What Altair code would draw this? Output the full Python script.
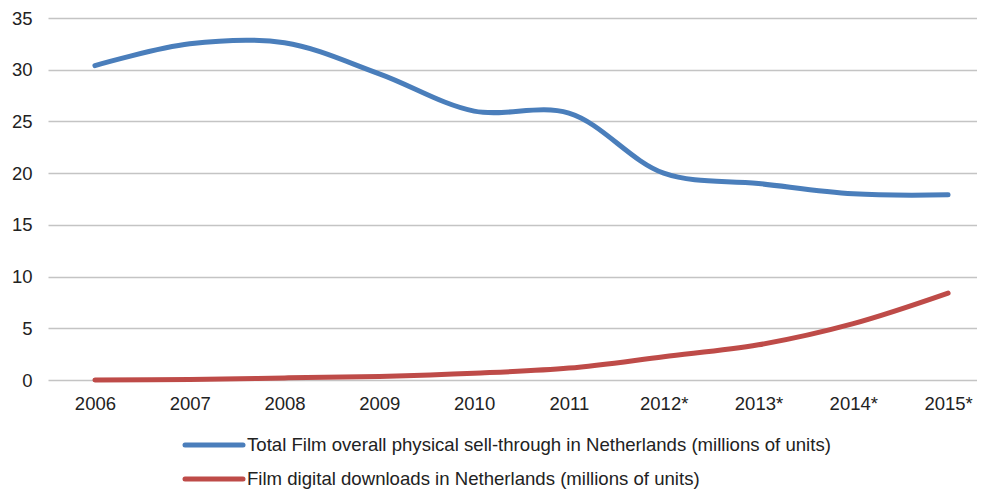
import altair as alt
import pandas as pd

years = ["2006", "2007", "2008", "2009", "2010", "2011", "2012*", "2013*", "2014*", "2015*"]
physical = [30.4, 32.5, 32.6, 29.6, 26.0, 25.8, 20.0, 19.0, 18.0, 17.9]
digital = [0.0, 0.05, 0.2, 0.35, 0.65, 1.15, 2.25, 3.4, 5.45, 8.4]

s1 = "Total Film overall physical sell-through in Netherlands (millions of units)"
s2 = "Film digital downloads in Netherlands (millions of units)"
series_names = [s1, s2]
series_colors = ["#4a7ebb", "#be4b48"]

rows = []
for i, y in enumerate(years):
    rows.append({"idx": i, "year": y, "series": s1, "value": physical[i]})
    rows.append({"idx": i, "year": y, "series": s2, "value": digital[i]})
df = pd.DataFrame(rows)

label_arr = "[" + ",".join("'" + y + "'" for y in years) + "]"
color_scale = alt.Scale(domain=series_names, range=series_colors)

lines = alt.Chart(df).mark_line(
    interpolate="catmull-rom", strokeWidth=5, strokeCap="round"
).encode(
    x=alt.X(
        "idx:Q",
        scale=alt.Scale(domain=[-0.495, 9.305], nice=False, zero=False),
        axis=alt.Axis(
            values=list(range(len(years))),
            labelExpr=label_arr + "[datum.value]",
            title=None, grid=False, domain=False, ticks=False,
            labelFontSize=18.5, labelPadding=14, labelColor="#222",
            labelFont="Liberation Sans",
        ),
    ),
    y=alt.Y(
        "value:Q",
        scale=alt.Scale(domain=[0, 35], nice=False),
        axis=alt.Axis(
            values=[0, 5, 10, 15, 20, 25, 30, 35],
            title=None, grid=True, gridColor="#c4c4c4", gridWidth=1.5,
            domain=False, ticks=False, labelFontSize=18.5, labelPadding=16,
            labelColor="#222", labelFont="Liberation Sans",
        ),
    ),
    color=alt.Color("series:N", scale=color_scale, legend=None),
    order="idx:Q",
)

legend_layers = []
for k, name in enumerate(series_names):
    ly = 427 + 34 * k
    ldf = pd.DataFrame({"series": [name]})
    sym = alt.Chart(ldf).mark_rule(strokeWidth=5, strokeCap="round").encode(
        x=alt.value(137), x2=alt.value(195), y=alt.value(ly),
        color=alt.Color("series:N", scale=color_scale, legend=None),
    )
    txt = alt.Chart(ldf).mark_text(
        align="left", baseline="middle", fontSize=18.6,
        font="Liberation Sans", color="#222",
    ).encode(
        x=alt.value(199), y=alt.value(ly), text="series:N",
    )
    legend_layers += [sym, txt]

chart = alt.layer(lines, *legend_layers).properties(
    width=929, height=362,
    autosize=alt.AutoSizeParams(type="none"),
    padding={"left": 40, "top": 10, "right": 0, "bottom": 112},
).configure_view(stroke=None)

chart.save("out.html", embed_options={"renderer": "svg", "actions": False})
